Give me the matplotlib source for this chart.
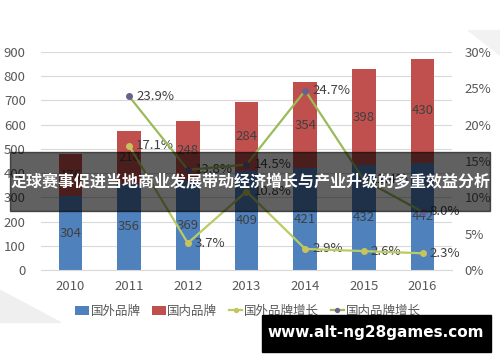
import numpy as np
import matplotlib.pyplot as plt
from matplotlib.patches import Rectangle, Polygon

plt.rcParams['font.family'] = ['Noto Sans CJK SC', 'DejaVu Sans']

years = ['2010', '2011', '2012', '2013', '2014', '2015', '2016']
foreign = [304, 356, 369, 409, 421, 432, 442]
domestic = [176, 218, 248, 284, 354, 398, 430]
foreign_growth = [None, 17.1, 3.7, 10.8, 2.9, 2.6, 2.3]
domestic_growth = [None, 23.9, 13.8, 14.5, 24.7, 12.4, 8.0]
left_ticks = list(range(0, 1000, 100))
right_ticks = [0, 5, 10, 15, 20, 25, 30]
title = '足球赛事促进当地商业发展带动经济增长与产业升级的多重效益分析'
watermark = 'www.alt-ng28games.com'

BLUE = '#4F81BD'
RED = '#C0504D'
GREEN = '#9BBB59'
GREEN2 = '#B9CB62'
PURPLE = '#6B5F8E'
GRAY = '#595959'

fig = plt.figure(figsize=(5, 3.62), dpi=100)
W, H = 500, 362

# faint background wedges
fig.patches.append(Polygon([(0, 1 - 290 / H), (0, 1 - 322 / H), (60 / W, 1 - 322 / H)],
                           closed=True, transform=fig.transFigure, color='#efefef', zorder=0))
fig.patches.append(Polygon([(468 / W, 1 - 30 / H), (1, 1 - 30 / H), (1, 1 - 55 / H)],
                           closed=True, transform=fig.transFigure, color='#f2f2f2', zorder=0))

ax = fig.add_axes([41 / W, 1 - 270 / H, 411 / W, 218 / H])
ax.patch.set_alpha(0)
x = np.arange(len(years))
ax.bar(x, foreign, width=0.4, color=BLUE, label='国外品牌', zorder=2)
ax.bar(x, domestic, width=0.4, bottom=foreign, color=RED, label='国内品牌', zorder=2)
for i in range(len(years)):
    ax.text(x[i], foreign[i] / 2, str(foreign[i]), ha='center', va='center',
            fontsize=9.5, color='#404040', zorder=3)
    ax.text(x[i], foreign[i] + domestic[i] / 2, str(domestic[i]), ha='center', va='center',
            fontsize=9.5, color='#404040', zorder=3)

ax.set_xlim(-0.5, len(years) - 0.5)
ax.set_ylim(0, 900)
ax.set_yticks(left_ticks)
ax.set_xticks(x)
ax.set_xticklabels(years)
ax.grid(axis='y', color='#d9d9d9', linewidth=0.8, zorder=0)
ax.set_axisbelow(True)
for s in ['top', 'right', 'left']:
    ax.spines[s].set_visible(False)
ax.spines['bottom'].set_color('#d9d9d9')
ax.tick_params(axis='both', length=0, colors=GRAY, labelsize=9.5)
ax.tick_params(axis='x', pad=7)
ax.tick_params(axis='y', pad=11)

ax2 = ax.twinx()
xs = x[1:]
fg = foreign_growth[1:]
dg = domestic_growth[1:]
ax2.plot(xs, fg, color=GREEN2, linewidth=1.6, marker='o', markersize=4,
         markerfacecolor='#C8C45A', markeredgecolor='#C8C45A', label='国外品牌增长', zorder=4)
ax2.plot(xs, dg, color=GREEN, linewidth=1.6, marker='o', markersize=4,
         markerfacecolor=PURPLE, markeredgecolor=PURPLE, label='国内品牌增长', zorder=4)
for xi, v in zip(xs, fg):
    ax2.annotate(f'{v:.1f}%', (xi, v), xytext=(5, 0), textcoords='offset points',
                 ha='left', va='center', fontsize=9.5, color='#404040')
for xi, v in zip(xs, dg):
    ax2.annotate(f'{v:.1f}%', (xi, v), xytext=(5, 0), textcoords='offset points',
                 ha='left', va='center', fontsize=9.5, color='#404040')
ax2.set_ylim(0, 30)
ax2.set_yticks(right_ticks)
ax2.set_yticklabels([f'{t}%' for t in right_ticks])
for s in ['top', 'right', 'left', 'bottom']:
    ax2.spines[s].set_visible(False)
ax2.tick_params(axis='y', length=0, colors=GRAY, labelsize=9.5, pad=9)

h1, l1 = ax.get_legend_handles_labels()
h2, l2 = ax2.get_legend_handles_labels()
fig.legend(h1 + h2, l1 + l2, loc='center', bbox_to_anchor=(248 / W, 1 - 311 / H),
           ncol=4, frameon=False, fontsize=9, labelcolor=GRAY, handlelength=1.1,
           handleheight=0.7, handletextpad=0.15, columnspacing=0.9, markerscale=0.7)

# title banner
fig.patches.append(Rectangle((10 / W, 1 - 211 / H), 480 / W, 59 / H, transform=fig.transFigure,
                             color='black', alpha=0.62, zorder=10))
fig.text(250 / W, 1 - 182 / H, title, ha='center', va='center', color='white',
         fontsize=11.5, fontweight='bold', zorder=11)

# watermark
fig.patches.append(Rectangle((262 / W, 1 - 352 / H), 229 / W, 37 / H, transform=fig.transFigure,
                             color='black', zorder=10))
fig.text(376 / W, 1 - 333 / H, watermark, ha='center', va='center', color='white',
         fontsize=11, fontweight='bold', family=['DejaVu Sans'], zorder=11)

fig.savefig('out.png', dpi=100)
